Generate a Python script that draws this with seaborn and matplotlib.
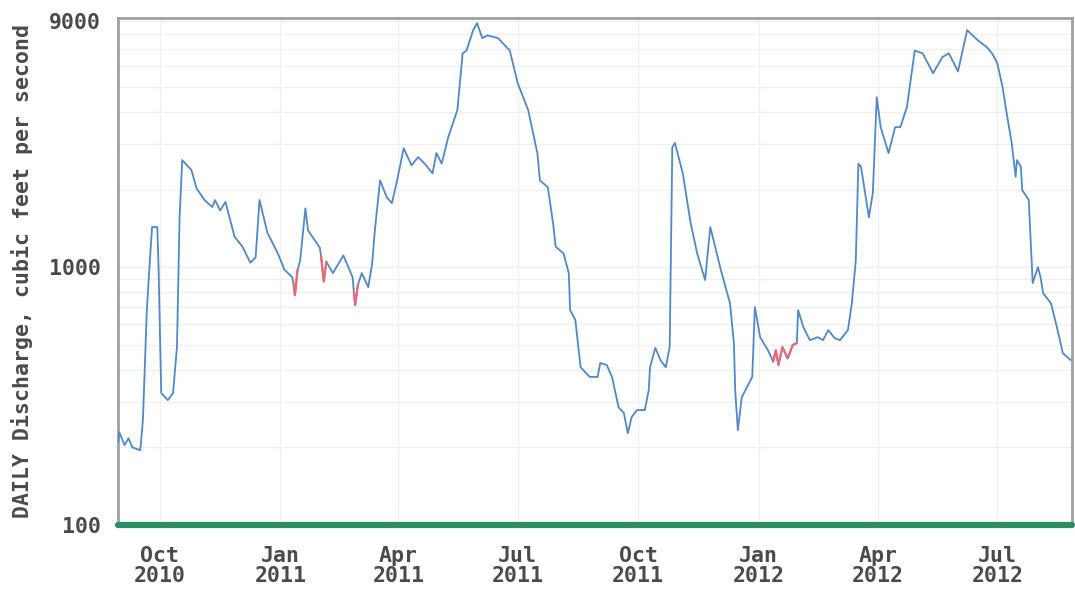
import matplotlib
matplotlib.use("Agg")
import matplotlib.pyplot as plt
from matplotlib.ticker import FixedLocator, NullFormatter, LogLocator
import pandas as pd
import seaborn as sns

# daily discharge (cfs)
dates = [
    # Aug-Sep 2010
    "2010-08-30", "2010-08-31", "2010-09-04", "2010-09-07", "2010-09-10", "2010-09-16",
    "2010-09-18", "2010-09-21", "2010-09-23", "2010-09-25", "2010-09-29", "2010-09-30",
    # Oct-Nov 2010
    "2010-10-02", "2010-10-07", "2010-10-11", "2010-10-14", "2010-10-16", "2010-10-18", "2010-10-25",
    "2010-10-29", "2010-11-04", "2010-11-10", "2010-11-12", "2010-11-16", "2010-11-20", "2010-11-27",
    # Dec 2010
    "2010-12-03", "2010-12-09", "2010-12-13", "2010-12-16", "2010-12-22", "2010-12-30",
    # Jan-Feb 2011
    "2011-01-04", "2011-01-10", "2011-01-11", "2011-01-12", "2011-01-14", "2011-01-16",
    "2011-01-20", "2011-01-22", "2011-01-31", "2011-02-01", "2011-02-03", "2011-02-05",
    "2011-02-10", "2011-02-18", "2011-02-25", "2011-02-26", "2011-02-27", "2011-03-01",
    # Mar-Apr 2011
    "2011-03-04", "2011-03-09", "2011-03-12", "2011-03-14", "2011-03-18", "2011-03-23", "2011-03-27",
    "2011-03-31", "2011-04-05", "2011-04-11", "2011-04-16", "2011-04-21", "2011-04-27", "2011-04-30",
    # May-Jun 2011
    "2011-05-04", "2011-05-09", "2011-05-16", "2011-05-20", "2011-05-23", "2011-05-28",
    "2011-05-31", "2011-06-04", "2011-06-08", "2011-06-16", "2011-06-25",
    # Jul-Aug 2011
    "2011-07-01", "2011-07-09", "2011-07-16", "2011-07-18", "2011-07-24", "2011-07-28", "2011-07-30",
    "2011-08-05", "2011-08-09", "2011-08-10", "2011-08-14", "2011-08-18", "2011-08-25", "2011-08-31",
    # Sep 2011
    "2011-09-02", "2011-09-07", "2011-09-11", "2011-09-16", "2011-09-20", "2011-09-23",
    "2011-09-26", "2011-09-30",
    # Oct-Nov 2011
    "2011-10-06", "2011-10-09", "2011-10-10", "2011-10-14", "2011-10-18", "2011-10-22", "2011-10-25",
    "2011-10-27", "2011-10-29", "2011-11-04", "2011-11-10", "2011-11-15", "2011-11-21", "2011-11-25",
    # Dec 2011
    "2011-12-03", "2011-12-10", "2011-12-13", "2011-12-14", "2011-12-16", "2011-12-19",
    "2011-12-23", "2011-12-27", "2011-12-29",
    # Jan-Feb 2012
    "2012-01-02", "2012-01-08", "2012-01-12", "2012-01-14", "2012-01-16", "2012-01-19", "2012-01-23",
    "2012-01-27", "2012-01-30", "2012-01-31", "2012-02-04", "2012-02-09", "2012-02-15", "2012-02-19",
    "2012-02-23", "2012-02-28",
    # Mar-Apr 2012
    "2012-03-03", "2012-03-09", "2012-03-12", "2012-03-15", "2012-03-17", "2012-03-19", "2012-03-25",
    "2012-03-28", "2012-03-31", "2012-04-03", "2012-04-09", "2012-04-14", "2012-04-18", "2012-04-23",
    "2012-04-29",
    # May-Jun 2012
    "2012-05-05", "2012-05-13", "2012-05-20", "2012-05-25", "2012-06-01", "2012-06-08",
    "2012-06-16", "2012-06-23", "2012-06-27",
    # Jul-Aug 2012
    "2012-07-01", "2012-07-05", "2012-07-09", "2012-07-12", "2012-07-15", "2012-07-16",
    "2012-07-19", "2012-07-20", "2012-07-25", "2012-07-28", "2012-08-01", "2012-08-03",
    "2012-08-05", "2012-08-11", "2012-08-16", "2012-08-20", "2012-08-26",
]

flow = [
    210, 229, 204, 217, 200, 195,
    255, 681, 1000, 1430, 1430, 977,
    325, 305, 325, 490, 1560, 2600, 2380,
    2020, 1820, 1710, 1820, 1660, 1790, 1310,
    1200, 1040, 1090, 1820, 1360, 1130,
    977, 914, 860, 778, 977, 1060,
    1690, 1390, 1190, 1100, 880, 1050,
    948, 1110, 914, 800, 712, 850,
    948, 836, 1040, 1390, 2170, 1870, 1770,
    2170, 2890, 2480, 2670, 2520, 2310, 2770,
    2520, 3190, 4070, 6750, 6910, 8300,
    8830, 7730, 7920, 7730, 6910,
    5170, 4070, 2770, 2170, 2040, 1480, 1200,
    1130, 948, 681, 624, 409, 375, 375,
    425, 417, 375, 286, 272, 227,
    262, 279,
    279, 333, 409, 486, 436, 409, 490,
    2920, 3030, 2310, 1480, 1130, 891, 1430,
    977, 724, 507, 333, 233, 313,
    343, 375, 700,
    535, 476, 430, 476, 417, 490, 443,
    500, 507, 681, 585, 521, 535, 521,
    570, 530,
    521, 570, 724, 1060, 2520, 2450, 1560,
    1940, 4560, 3490, 2770, 3490, 3490, 4170,
    6910,
    6750, 5650, 6520, 6750, 5740, 8300,
    7590, 7130, 6750,
    6180, 4990, 3720, 3030, 2240, 2600,
    2450, 1990, 1820, 867, 1000, 914,
    792, 724, 570, 464, 436,
]

# periods with estimated values (drawn in red)
est_start = ["2011-01-11", "2011-02-01", "2011-02-26", "2012-01-12"]
est_end = ["2011-01-14", "2011-02-05", "2011-03-01", "2012-01-30"]

quarter_ticks = ["2010-10-01", "2011-01-01", "2011-04-01", "2011-07-01",
                 "2011-10-01", "2012-01-01", "2012-04-01", "2012-07-01"]
y_ticks = [100, 1000, 9000]

df = pd.DataFrame({"date": pd.to_datetime(dates), "flow": flow})

sns.set_style("white")
plt.rcParams['font.family'] = ['DejaVu Sans Mono']

fig = plt.figure(figsize=(10.75, 5.95), dpi=100)
ax = fig.add_axes([118 / 1075, 1 - 525 / 595, (1072 - 118) / 1075, (525 - 18) / 595])

ax.set_yscale("log")
ax.set_ylim(100, 9250)
ax.set_xlim(pd.Timestamp("2010-08-30"), pd.Timestamp("2012-08-27"))

# faint grid
ax.yaxis.set_minor_locator(LogLocator(base=10, subs=range(2, 10)))
ax.yaxis.set_minor_formatter(NullFormatter())
ax.grid(True, which="minor", axis="y", color="#f0f0f0", lw=1)
ax.grid(True, which="major", axis="both", color="#f0f0f0", lw=1)

sns.lineplot(data=df, x="date", y="flow", color="#5088c8", lw=1.3, ax=ax,
             estimator=None, zorder=3)
for s, e in zip(est_start, est_end):
    sub = df[(df["date"] >= s) & (df["date"] <= e)]
    sns.lineplot(data=sub, x="date", y="flow", color="#e8697a", lw=1.6, ax=ax,
                 estimator=None, zorder=4)

# green bar along the bottom
ax.axhline(100, color="#2b8e63", lw=4.5, zorder=5, clip_on=False)

ax.yaxis.set_major_locator(FixedLocator(y_ticks))
ax.set_yticklabels([str(v) for v in y_ticks])
ax.set_xticks(pd.to_datetime(quarter_ticks))
xl = ax.set_xticklabels([d.strftime("%b\n%Y") for d in pd.to_datetime(quarter_ticks)])
for t in xl:
    t.set_linespacing(1.0)

ax.tick_params(axis="both", which="both", length=0, labelsize=15.5, labelcolor="#4a4a4a")
ax.tick_params(axis="x", pad=15)
ax.tick_params(axis="y", pad=12)
for t in ax.get_xticklabels() + ax.get_yticklabels():
    t.set_fontweight("bold")

ax.set_xlabel("")
ax.set_ylabel("DAILY Discharge, cubic feet per second", fontsize=15.5,
              color="#4a4a4a", fontweight="bold", labelpad=12)

for sp in ax.spines.values():
    sp.set_color("#a0a0a0")
    sp.set_linewidth(2)

fig.savefig("out.png", dpi=100)
